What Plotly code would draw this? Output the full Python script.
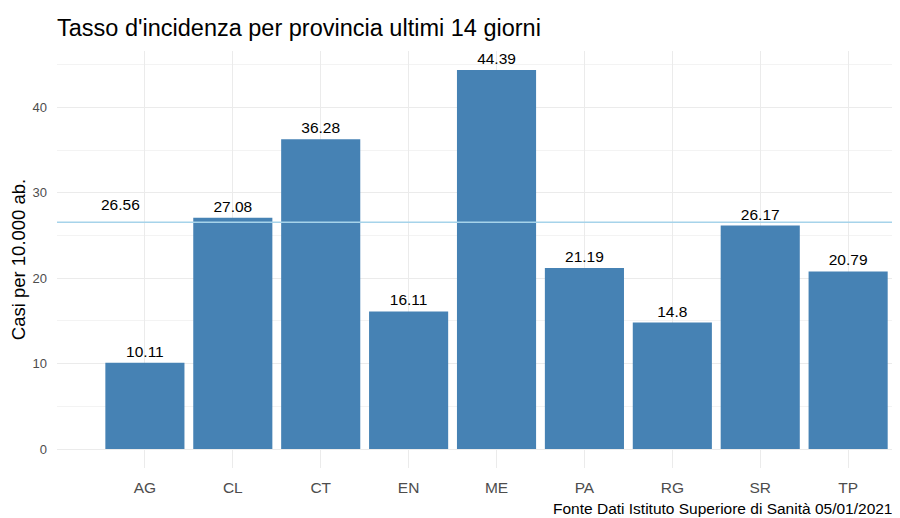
import plotly.graph_objects as go

province = ["AG", "CL", "CT", "EN", "ME", "PA", "RG", "SR", "TP"]
tasso = [10.11, 27.08, 36.28, 16.11, 44.39, 21.19, 14.8, 26.17, 20.79]
media = 26.56
y_ticks = [0, 10, 20, 30, 40]

FONT = "Liberation Sans, Arial, sans-serif"
W, H = 892, 510  # page body has an 8px margin

fig = go.Figure()
fig.add_trace(go.Bar(
    x=province, y=tasso, width=0.9,
    marker=dict(color="#4682B4", line=dict(width=0)),
    text=[f"{v:g}" for v in tasso], textposition="outside",
    textfont=dict(family=FONT, size=15.5, color="#000000"),
    cliponaxis=False,
))
fig.add_hline(y=media, line=dict(color="#a6d3ea", width=1.5), layer="above")
fig.add_annotation(x=-0.28, y=media, xref="x", yref="y", text=f"{media:g}",
                   showarrow=False, yanchor="bottom", yshift=7,
                   font=dict(family=FONT, size=15.5, color="#000000"))
fig.add_annotation(x=1, y=0, xref="paper", yref="paper", xanchor="right", yanchor="middle",
                   xshift=-5, yshift=-40,
                   text="Fonte Dati Istituto Superiore di Sanità 05/01/2021", showarrow=False,
                   font=dict(family=FONT, size=15.5, color="#000000"))

fig.update_layout(
    width=W, height=H,
    margin=dict(l=49, r=0, t=43, b=50, autoexpand=False),
    paper_bgcolor="white", plot_bgcolor="white",
    font=dict(family=FONT),
    showlegend=False,
    title=dict(text="Tasso d'incidenza per provincia ultimi 14 giorni",
               x=49/W, xanchor="left", y=1 - 20/H, yanchor="middle",
               font=dict(family=FONT, size=23.5, color="#000000")),
    bargap=0.1,
)
fig.update_xaxes(
    type="category", range=[-1.0, 8.59], automargin=False,
    showgrid=True, gridcolor="#ebebeb", gridwidth=1.2,
    tickfont=dict(family=FONT, size=15.5, color="#4d4d4d"),
    ticks="", ticklabelstandoff=8, zeroline=False, showline=False,
)
fig.update_yaxes(
    range=[-2.22, 46.6], tickvals=y_ticks, automargin=False,
    showgrid=True, gridcolor="#ebebeb", gridwidth=1.2,
    minor=dict(dtick=5, tick0=5, showgrid=True, gridcolor="#f3f3f3", gridwidth=0.8),
    tickfont=dict(family=FONT, size=13, color="#4d4d4d"),
    ticks="", ticklabelstandoff=9, zeroline=False, showline=False,
    title=dict(text="Casi per 10.000 ab.", font=dict(family=FONT, size=18.5, color="#000000"), standoff=9),
)
fig.write_html("out.html")
